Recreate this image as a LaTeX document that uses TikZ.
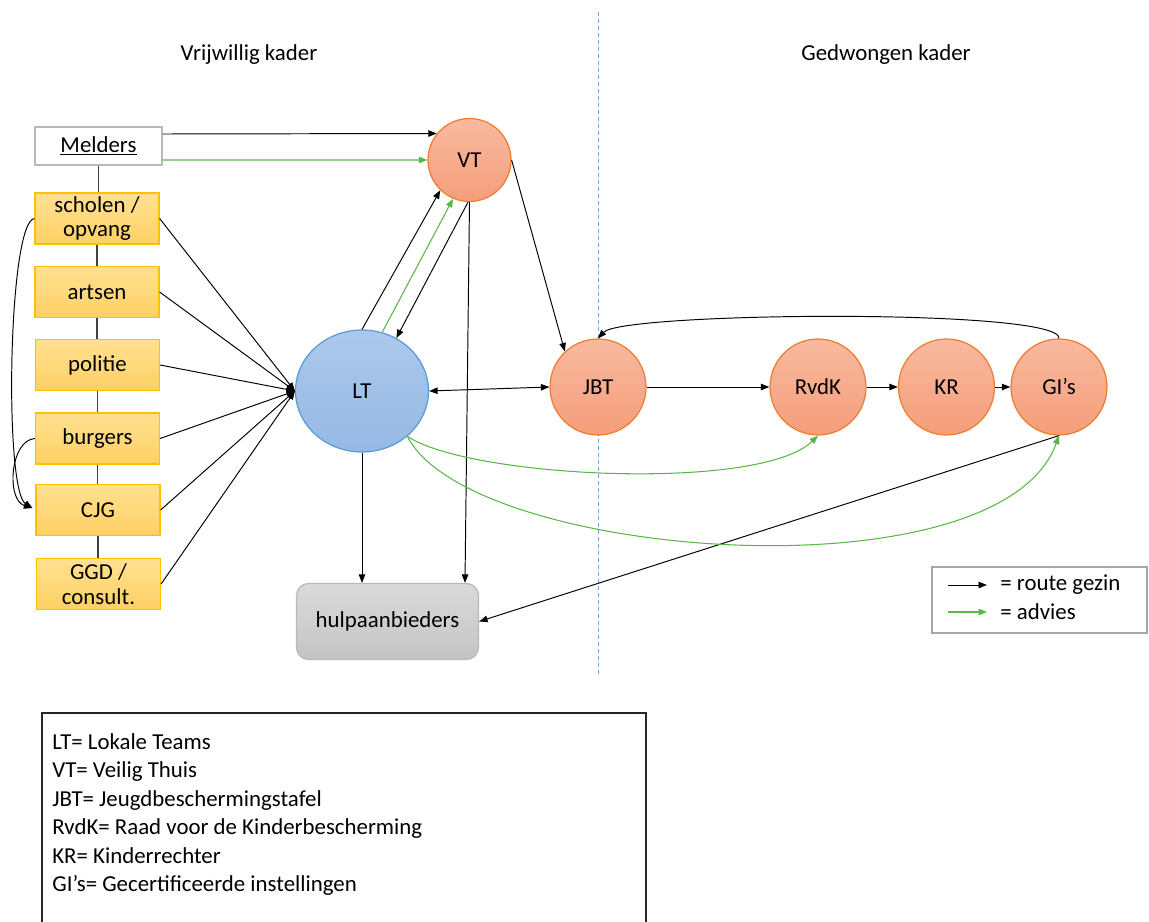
\documentclass[tikz,border=0pt]{standalone}
\usepackage{fontspec}
\setmainfont{Carlito}
\usetikzlibrary{arrows.meta,shapes.geometric,calc}
\definecolor{orline}{RGB}{237,125,49}
\definecolor{ortop}{RGB}{249,185,160}
\definecolor{orbot}{RGB}{245,158,122}
\definecolor{blline}{RGB}{91,155,213}
\definecolor{bltop}{RGB}{172,200,236}
\definecolor{blbot}{RGB}{150,185,228}
\definecolor{yline}{RGB}{255,192,0}
\definecolor{ytop}{RGB}{255,225,145}
\definecolor{ybot}{RGB}{255,208,100}
\definecolor{gline}{RGB}{185,185,185}
\definecolor{gtop}{RGB}{218,218,218}
\definecolor{gbot}{RGB}{196,196,196}
\definecolor{adv}{RGB}{90,182,72}
\definecolor{dashblue}{RGB}{110,168,220}
\tikzset{
  every node/.style={font=\fontsize{13}{15.6}\selectfont},
  tip/.tip={Triangle[length=1.7mm,width=1.3mm]},
  arr/.style={draw=black, line width=0.55pt, -tip},
  garr/.style={draw=adv, line width=0.6pt, -tip},
  plain/.style={draw=black!75, line width=0.6pt},
  orcirc/.style={circle, draw=orline, line width=0.7pt, top color=ortop, bottom color=orbot, minimum size=1.92cm, inner sep=0pt},
  ybox/.style={rectangle, draw=yline, line width=0.7pt, top color=ytop, bottom color=ybot, minimum width=2.48cm, minimum height=1.02cm, inner sep=0pt, align=center, font=\fontsize{13}{14}\selectfont},
  lbl/.style={inner sep=0pt},
}
\begin{document}
\begin{tikzpicture}[x=0.02cm, y=-0.02cm]
\useasboundingbox (0,0) rectangle (1149,922);

% dashed divider
\draw[dashblue, line width=0.5pt, dash pattern=on 0.08cm off 0.06cm] (598,12) -- (598,675);

% titles
\node[lbl] (vrij) at (249,55) {Vrijwillig kader};
\node[lbl] (gedw) at (886,55) {Gedwongen kader};

% left column
\node[rectangle, draw=gline, fill=white, line width=0.7pt, minimum width=2.54cm, minimum height=0.76cm, inner sep=0pt] (mel) at (98.5,146) {\underline{Melders}};
\node[ybox] (sch) at (97,218.5) {scholen /\\opvang};
\node[ybox] (art) at (97,292) {artsen};
\node[ybox] (pol) at (97.5,365) {politie};
\node[ybox] (bur) at (97.5,438.5) {burgers};
\node[ybox] (cjg) at (98,510) {CJG};
\node[ybox] (ggd) at (98.5,584) {GGD /\\consult.};

% circles
\node[orcirc, minimum size=1.66cm] (VT) at (469.5,160) {VT};
\node[ellipse, draw=blline, line width=0.7pt, top color=bltop, bottom color=blbot, minimum width=2.66cm, minimum height=2.44cm, inner sep=0pt] (LT) at (362,391) {LT};
\node[orcirc] (JBT) at (598,387) {JBT};
\node[orcirc] (RVDK) at (818,387) {RvdK};
\node[orcirc] (KR) at (946.5,387) {KR};
\node[orcirc] (GI) at (1059,387) {GI’s};

% hulpaanbieders
\node[rectangle, rounded corners=0.24cm, draw=gline, line width=0.7pt, top color=gtop, bottom color=gbot, minimum width=3.64cm, minimum height=1.52cm, inner sep=0pt] (hulp) at (387.5,621.5) {hulpaanbieders};

% vertical connectors of the left column
\draw[plain] (mel.south) -- (mel.south |- sch.north);
\draw[plain] (sch.south) -- (sch.south |- art.north);
\draw[plain] (art.south) -- (art.south |- pol.north);
\draw[plain] (pol.south) -- (pol.south |- bur.north);
\draw[plain] (bur.south) -- (bur.south |- cjg.north);
\draw[plain] (cjg.south) -- (cjg.south |- ggd.north);

% left curves into CJG
\coordinate (cjgin) at ([xshift=-0.06cm,yshift=0.04cm]cjg.west);
\draw[arr] (sch.west) .. controls (8,222) and (4,490) .. (cjgin);
\draw[arr] (bur.west) .. controls (10,440) and (6,500) .. (cjgin);

% melders to VT
\draw[arr] ([yshift=0.24cm]mel.east) -- (VT.141);
\draw[garr] ([yshift=-0.28cm]mel.east) -- (VT.west);

% boxes to LT
\foreach \b in {sch,art,pol,bur,cjg,ggd}
  \draw[arr] (\b.east) -- (LT.west);

% LT <-> VT
\draw[arr] (LT.north) -- (VT.226);
\draw[garr] (LT.71) -- (VT.247);
\draw[arr] (VT.268) -- (LT.57);

% VT -> JBT
\draw[arr] (VT.east) -- (JBT.133);

% to hulpaanbieders
\draw[arr] (LT.south) -- (LT.south |- hulp.north);
\draw[arr] (VT.south) -- ([xshift=1.55cm]hulp.north);
\draw[arr] (GI.south) -- (hulp.east);

% LT <-> JBT and chain
\draw[{tip}-{tip}, line width=0.55pt] (LT.east) -- (JBT.west);
\draw[arr] (JBT.east) -- (RVDK.west);
\draw[arr] (RVDK.east) -- (KR.west);
\draw[arr] (KR.east) -- (GI.west);

% GI's back to JBT
\draw[arr] (GI.north) .. controls (1062,308) and (622,312) .. (JBT.north);

% advice curves
\draw[garr] (LT.-45) .. controls (470,478) and (760,492) .. (RVDK.south);
\draw[garr] (LT.-45) .. controls (470,560) and (1000,600) .. (GI.south);

% legend (arrows)
\draw[line width=0.7pt, draw=black!35] (932,567) rectangle (1147,633);
\coordinate (l1a) at (948,585);
\coordinate (l1b) at (987,585);
\coordinate (l2a) at (948,612);
\coordinate (l2b) at (987,612);
\draw[arr] (l1a) -- (l1b);
\draw[garr] (l2a) -- (l2b);
\node[lbl, anchor=west] (lg1) at (1000,585) {= route gezin};
\node[lbl, anchor=west] (lg2) at (1000,612) {= advies};

% abbreviations box
\draw[line width=1pt, draw=black!85] (42,930) -- (42,713) -- (646,713) -- (646,930);
\node[lbl, anchor=base west] (a1) at (52,749) {LT= Lokale Teams};
\node[lbl, anchor=base west] (a2) at (52,777.5) {VT= Veilig Thuis};
\node[lbl, anchor=base west] (a3) at (52,806) {JBT= Jeugdbeschermingstafel};
\node[lbl, anchor=base west] (a4) at (52,834.5) {RvdK= Raad voor de Kinderbescherming};
\node[lbl, anchor=base west] (a5) at (52,863) {KR= Kinderrechter};
\node[lbl, anchor=base west] (a6) at (52,891.5) {GI’s= Gecertificeerde instellingen};
\end{tikzpicture}
\end{document}
